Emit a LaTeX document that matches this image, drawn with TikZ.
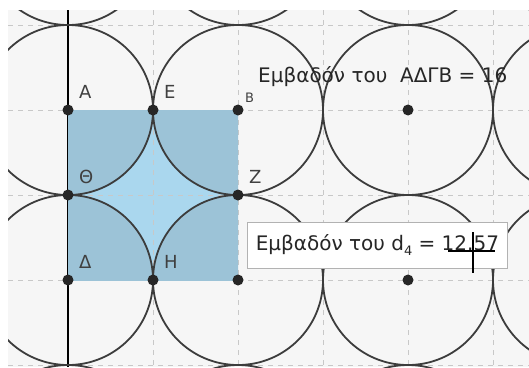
\documentclass[tikz,border=0pt]{standalone}
\usepackage{fontspec}
\setmainfont{DejaVu Sans}
\usetikzlibrary{positioning}
\definecolor{bggray}{RGB}{246,246,246}
\definecolor{gridgray}{RGB}{200,200,200}
\definecolor{sqblue}{RGB}{170,215,238}
\definecolor{qblue}{RGB}{156,195,215}
\definecolor{arcgray}{RGB}{60,60,60}

\begin{document}
\begin{tikzpicture}[x=1pt,y=-1pt,
  pt/.style={circle,fill=black!85,inner sep=0pt,minimum size=11pt},
  lbl/.style={font=\fontsize{18}{18}\selectfont,text=black!75,inner sep=0pt},
  area/.style={font=\fontsize{20}{22}\selectfont,text=black!85,inner sep=0pt},
  gridline/.style={gridgray,dash pattern=on 5pt off 5pt,line width=0.8pt},
  circ/.style={arcgray,line width=1.8pt}]
\useasboundingbox (0,0) rectangle (529,367);
\fill[white] (0,0) rectangle (529,367);
\fill[bggray] (8,10) rectangle (529,367);
\begin{scope}
\clip (8,10) rectangle (529,367);
% grid and axis
\foreach \x in {153,238,323,408,493} \draw[gridline] (\x,10) -- (\x,367);
\foreach \y in {25,110,195,280,365} \draw[gridline] (8,\y) -- (529,\y);
\draw[line width=2pt,black] (68,10) -- (68,367);
% square with the four quarter discs
\fill[sqblue] (68,110) rectangle (238,280);
\begin{scope}
\clip (68,110) rectangle (238,280);
\foreach \x in {68,238} \foreach \y in {110,280} \fill[qblue] (\x,\y) circle[radius=85pt];
\end{scope}
\draw[gridline] (153,110) -- (153,280);
\draw[gridline] (68,195) -- (238,195);
% circles
\foreach \x in {-102,68,238,408,578}
  \foreach \y in {-60,110,280,450}
    \draw[circ] (\x,\y) circle[radius=85pt];
\end{scope}
% points
\node[pt] (A) at (68,110) {};
\node[pt] (E) at (153,110) {};
\node[pt] (B) at (238,110) {};
\node[pt] (Th) at (68,195) {};
\node[pt] (Z) at (238,195) {};
\node[pt] (D) at (68,280) {};
\node[pt] (H) at (153,280) {};
\node[pt] (G) at (238,280) {};
\node[pt] (K1) at (408,110) {};
\node[pt] (K2) at (408,280) {};
\node[lbl,above right=7pt and 7pt of A] (lA) {A};
\node[lbl,above right=7pt and 7pt of E] (lE) {E};
\node[lbl,above right=3pt and 3pt of B,font=\fontsize{13}{13}\selectfont] (lB) {B};
\node[lbl,above right=7pt and 7pt of Th] (lTh) {Θ};
\node[lbl,above right=7pt and 7pt of Z] (lZ) {Z};
\node[lbl,above right=7pt and 7pt of D] (lD) {Δ};
\node[lbl,above right=7pt and 7pt of H] (lH) {H};
% area texts
\node[area,anchor=west] (t1) at (258,77) {Εμβαδόν του\ \ ΑΔΓΒ = 16};
\node[area,anchor=west,draw=black!30,fill=white,line width=0.8pt,
  minimum width=260pt,minimum height=46pt] (t2) at (247,245)
  {Εμβαδόν του d\raisebox{-5pt}{\fontsize{13}{13}\selectfont 4} = 12.57};
% mouse cursor
\coordinate (cur) at (473,251);
\draw[line width=2.5pt] ([yshift=19pt]cur) -- ([yshift=-22pt]cur);
\draw[line width=2pt] ([xshift=-25pt]cur) -- ([xshift=22pt]cur);
\end{tikzpicture}
\end{document}
